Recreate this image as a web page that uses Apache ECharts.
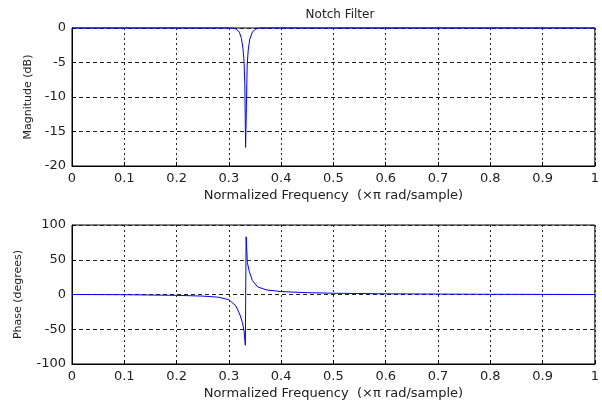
<!DOCTYPE html>
<html>
<head>
<meta charset="utf-8">
<script src="https://cdn.jsdelivr.net/npm/echarts@6/dist/echarts.min.js"></script>
<style>
html,body{margin:0;padding:0;background:#fff;}
#chart{width:602px;height:403px;}
</style>
</head>
<body>
<div id="chart"></div>
<script>
// Normalized frequency ticks (x pi rad/sample)
const xTicks = [0, 0.1, 0.2, 0.3, 0.4, 0.5, 0.6, 0.7, 0.8, 0.9, 1];
const magTicks = [-20, -15, -10, -5, 0];
const phaseTicks = [-100, -50, 0, 50, 100];

// Magnitude response (dB)
const magFreq = [0, 0.10, 0.20, 0.30, 0.310, 0.315, 0.320, 0.324, 0.327, 0.329, 0.3305, 0.332, 0.3335, 0.335, 0.337, 0.340, 0.345, 0.350, 0.355, 0.360, 0.50, 0.70, 0.90, 1.0];
const magDb   = [0, 0, 0, 0, -0.05, -0.2, -0.6, -1.5, -3.0, -4.8, -8.0, -17.3, -11.5, -5.5, -3.2, -1.6, -0.6, -0.2, -0.05, 0, 0, 0, 0, 0];

// Phase response (degrees)
const phFreq = [0, 0.10, 0.20, 0.25, 0.28, 0.30, 0.313, 0.3206, 0.3258, 0.329, 0.3315, 0.3330, 0.3354, 0.3387, 0.345, 0.355, 0.371, 0.40, 0.45, 0.50, 0.60, 0.70, 0.80, 0.90, 1.0];
const phDeg  = [0, -0.3, -1.2, -2.3, -3.9, -7.5, -16, -28, -40, -52, -73, 83, 46, 34, 20, 11, 6.7, 4.2, 2.6, 1.8, 1.0, 0.6, 0.3, 0.15, 0];

const FONT = 'DejaVu Sans';
const magData = magFreq.map((f, i) => [f, magDb[i]]);
const phData = phFreq.map((f, i) => [f, phDeg[i]]);

function xAxis(gridIndex) {
  return {
    type: 'value', gridIndex, min: xTicks[0], max: xTicks[xTicks.length - 1], interval: 0.1,
    name: 'Normalized Frequency  (\u00d7\u03c0 rad/sample)',
    nameLocation: 'middle', nameGap: 23,
    nameTextStyle: {fontFamily: FONT, fontSize: 13, color: '#222'},
    axisLine: {show: true, onZero: false, lineStyle: {color: '#000', width: 1}},
    axisTick: {show: true, inside: true, length: 4, lineStyle: {color: '#000'}},
    axisLabel: {fontFamily: FONT, fontSize: 13, color: '#222', margin: 6,
      formatter: v => String(+v.toFixed(1))},
    splitLine: {show: true, lineStyle: {color: '#222', width: 1, type: [2, 3]}}
  };
}
function yAxis(gridIndex, ticks, name, gap) {
  return {
    type: 'value', gridIndex, min: ticks[0], max: ticks[ticks.length - 1], interval: ticks[1] - ticks[0],
    name, nameLocation: 'middle', nameGap: gap,
    nameTextStyle: {fontFamily: FONT, fontSize: 11, color: '#222'},
    axisLine: {show: true, onZero: false, lineStyle: {color: '#000', width: 1}},
    axisTick: {show: true, inside: true, length: 4, lineStyle: {color: '#000'}},
    axisLabel: {fontFamily: FONT, fontSize: 13, color: '#222', margin: 6},
    splitLine: {show: true, lineStyle: {color: '#222', width: 1, type: [4, 3]}}
  };
}

const chart = echarts.init(document.getElementById('chart'), null, {renderer: 'canvas'});
chart.setOption({
  animation: false,
  backgroundColor: '#fff',
  title: {text: 'Notch Filter', left: 335, top: 4, textAlign: 'center',
    textStyle: {fontFamily: FONT, fontSize: 12, fontWeight: 'normal', color: '#222'}},
  grid: [
    {left: 72, top: 28, width: 525, height: 138, show: true, borderColor: '#000', borderWidth: 1, backgroundColor: '#fff'},
    {left: 72, top: 225, width: 525, height: 139, show: true, borderColor: '#000', borderWidth: 1, backgroundColor: '#fff'}
  ],
  xAxis: [xAxis(0), xAxis(1)],
  yAxis: [yAxis(0, magTicks, 'Magnitude (dB)', 38), yAxis(1, phaseTicks, 'Phase (degrees)', 48)],
  series: [
    {type: 'line', xAxisIndex: 0, yAxisIndex: 0, data: magData, showSymbol: false, clip: false,
      lineStyle: {color: '#0000ff', width: 1}},
    {type: 'line', xAxisIndex: 1, yAxisIndex: 1, data: phData, showSymbol: false, clip: false,
      lineStyle: {color: '#0000ff', width: 1}}
  ]
});
</script>
</body>
</html>
